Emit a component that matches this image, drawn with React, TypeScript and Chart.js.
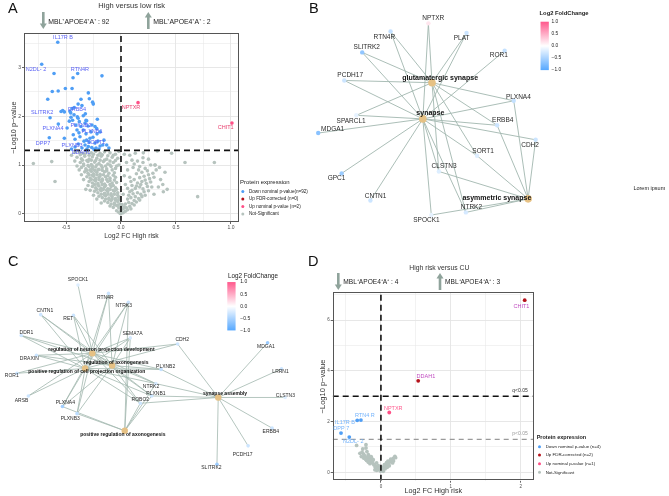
import React, { useEffect, useRef } from 'react';
import { Chart, registerables } from 'chart.js';

Chart.register(...registerables);

type Pt = [number, number];

const FONT = '"Liberation Sans", Arial, Helvetica, sans-serif';
const BLUE = '#4f9ef5';
const DARKRED = '#b5121b';
const PINK = '#ff4f86';
const GREY = '#b6c3be';
const EDGE = '#a2b7af';
const CAT = '#e6c184';
const ARROW = '#8fa39b';

// ================= Panel A : High versus low risk =================
const aDown: Pt[] = [
  [-0.575, 3.52], [-0.721, 3.07], [-0.609, 2.88], [-0.436, 2.79], [-0.394, 2.88], [-0.173, 2.83],
  [-0.625, 2.51], [-0.571, 2.52], [-0.506, 2.57], [-0.445, 2.57], [-0.297, 2.48], [-0.666, 2.35], [-0.364, 2.35],
  [-0.252, 2.25], [-0.258, 2.29], [-0.39, 2.25], [-0.355, 2.22], [-0.288, 2.36],
  [-0.53, 2.12], [-0.545, 2.1], [-0.515, 2.09], [-0.464, 2.1], [-0.425, 2.18], [-0.445, 2.16], [-0.457, 2.07], [-0.427, 2.03], [-0.324, 2.05],
  [-0.645, 1.97], [-0.455, 1.98], [-0.343, 2.01], [-0.397, 1.99], [-0.47, 1.9], [-0.44, 1.92], [-0.312, 1.91], [-0.215, 1.94], [-0.379, 1.89], [-0.318, 1.92], [-0.39, 1.96],
  [-0.57, 1.84], [-0.41, 1.82], [-0.364, 1.79], [-0.343, 1.72], [-0.273, 1.68], [-0.221, 1.75], [-0.19, 1.68], [-0.236, 1.79], [-0.327, 1.86], [-0.3, 1.8], [-0.264, 1.82], [-0.49, 1.76], [-0.4, 1.72], [-0.382, 1.66],
  [-0.652, 1.56], [-0.515, 1.55], [-0.434, 1.62], [-0.373, 1.58], [-0.312, 1.51], [-0.282, 1.55], [-0.236, 1.45], [-0.166, 1.41], [-0.255, 1.57], [-0.336, 1.49], [-0.29, 1.47], [-0.418, 1.53], [-0.218, 1.64], [-0.318, 1.64], [-0.155, 1.51], [-0.21, 1.49],
  [-0.388, 1.43], [-0.327, 1.41], [-0.297, 1.38], [-0.266, 1.36], [-0.13, 1.41], [-0.418, 1.37], [-0.355, 1.35], [-0.227, 1.35], [-0.19, 1.39], [-0.11, 1.35], [-0.45, 1.33], [-0.245, 1.32], [-0.31, 1.33], [-0.2, 1.33],
];
const aUpFdr: Pt[] = [];
const aUpNom: Pt[] = [[0.155, 2.28], [1.009, 1.86]];
const aNotSig: Pt[] = [
  [-0.42, 1.26], [-0.38, 1.27], [-0.35, 1.24], [-0.31, 1.27], [-0.27, 1.25], [-0.23, 1.28], [-0.19, 1.24], [-0.15, 1.27], [-0.1, 1.25], [-0.05, 1.22], [-0.02, 1.28],
  [-0.4, 1.16], [-0.36, 1.13], [-0.33, 1.18], [-0.29, 1.12], [-0.26, 1.17], [-0.22, 1.14], [-0.18, 1.18], [-0.13, 1.12], [-0.08, 1.16], [-0.03, 1.14],
  [-0.37, 1.05], [-0.34, 1.02], [-0.3, 1.07], [-0.27, 1.01], [-0.24, 1.06], [-0.2, 1.03], [-0.16, 1.07], [-0.12, 1.02], [-0.07, 1.05], [-0.02, 1.0],
  [-0.36, 0.95], [-0.32, 0.92], [-0.29, 0.97], [-0.26, 0.93], [-0.23, 0.96], [-0.2, 0.91], [-0.17, 0.95], [-0.13, 0.92], [-0.09, 0.97], [-0.05, 0.93],
  [-0.33, 0.86], [-0.3, 0.83], [-0.27, 0.87], [-0.25, 0.82], [-0.22, 0.85], [-0.19, 0.81], [-0.15, 0.86], [-0.11, 0.83], [-0.06, 0.84],
  [-0.31, 0.76], [-0.28, 0.73], [-0.25, 0.77], [-0.23, 0.72], [-0.2, 0.75], [-0.17, 0.71], [-0.14, 0.76], [-0.1, 0.73], [-0.05, 0.75],
  [-0.29, 0.66], [-0.26, 0.63], [-0.23, 0.67], [-0.21, 0.62], [-0.18, 0.65], [-0.15, 0.61], [-0.12, 0.66], [-0.08, 0.63], [-0.04, 0.64],
  [-0.26, 0.56], [-0.23, 0.53], [-0.2, 0.57], [-0.18, 0.52], [-0.15, 0.55], [-0.12, 0.51], [-0.09, 0.56], [-0.05, 0.53],
  [-0.24, 0.46], [-0.21, 0.43], [-0.18, 0.47], [-0.15, 0.42], [-0.12, 0.45], [-0.09, 0.41], [-0.06, 0.46], [-0.03, 0.43],
  [-0.2, 0.36], [-0.17, 0.33], [-0.14, 0.37], [-0.11, 0.32], [-0.08, 0.35], [-0.05, 0.31], [-0.02, 0.34],
  [-0.15, 0.26], [-0.12, 0.23], [-0.09, 0.27], [-0.06, 0.22], [-0.03, 0.25], [-0.01, 0.2],
  [-0.1, 0.16], [-0.07, 0.13], [-0.04, 0.17], [-0.02, 0.12], [0.0, 0.15],
  [-0.04, 0.06], [-0.02, 0.03], [0.0, 0.07], [0.02, 0.02], [0.04, 0.05], [0.0, 0.0], [-0.01, 0.01],
  [0.02, 0.1], [0.05, 0.12], [0.08, 0.15], [0.04, 0.2], [0.07, 0.23], [0.1, 0.21], [0.12, 0.27], [0.06, 0.3], [0.09, 0.33], [0.13, 0.35], [0.16, 0.31],
  [0.11, 0.41], [0.15, 0.43], [0.18, 0.4], [0.21, 0.45], [0.08, 0.45], [0.13, 0.52], [0.17, 0.55], [0.2, 0.51], [0.24, 0.56], [0.1, 0.58],
  [0.15, 0.63], [0.19, 0.66], [0.23, 0.62], [0.27, 0.65], [0.12, 0.7], [0.17, 0.74], [0.21, 0.77], [0.26, 0.72], [0.3, 0.75], [0.14, 0.82],
  [0.19, 0.85], [0.24, 0.88], [0.29, 0.83], [0.06, 0.9], [0.11, 0.95], [0.17, 0.97], [0.22, 0.93], [0.27, 1.0], [0.31, 1.0], [0.05, 1.05],
  [0.1, 1.1], [0.15, 1.08], [0.2, 1.15], [0.08, 1.2], [0.13, 1.24], [0.03, 0.78], [0.04, 0.6], [0.02, 0.4], [0.03, 1.22],
  [-0.45, 1.2], [-0.42, 1.08], [-0.4, 0.98], [-0.38, 0.9], [-0.36, 0.8], [-0.34, 0.7], [-0.3, 0.58], [-0.28, 0.48], [-0.25, 0.38], [-0.22, 0.3], [-0.18, 0.22], [-0.32, 0.5],
  [-0.797, 1.03], [-0.63, 1.07], [-0.6, 0.66], [0.582, 1.05], [0.849, 1.05], [0.697, 0.35], [0.46, 1.24], [0.33, 1.29], [0.203, 1.25],
  [0.309, 1.0], [0.385, 0.45], [0.42, 0.5], [0.36, 0.7], [0.4, 0.85], [0.34, 0.55], [0.38, 0.6], [0.3, 0.4],
  [-0.37, 1.21], [-0.33, 1.22], [-0.29, 1.2], [-0.25, 1.22], [-0.21, 1.2], [-0.17, 1.21], [-0.12, 1.19], [-0.07, 1.2],
  [-0.35, 1.1], [-0.31, 1.09], [-0.27, 1.1], [-0.23, 1.09], [-0.19, 1.1], [-0.15, 1.1], [-0.1, 1.08], [-0.05, 1.09],
  [-0.34, 0.99], [-0.3, 0.99], [-0.26, 0.98], [-0.22, 1.0], [-0.18, 0.99], [-0.14, 0.98], [-0.1, 1.0], [-0.04, 0.98],
  [-0.31, 0.89], [-0.28, 0.9], [-0.24, 0.89], [-0.21, 0.9], [-0.17, 0.89], [-0.13, 0.88], [-0.08, 0.9],
  [-0.29, 0.8], [-0.26, 0.79], [-0.22, 0.8], [-0.19, 0.78], [-0.16, 0.8], [-0.12, 0.78], [-0.07, 0.79],
  [-0.27, 0.7], [-0.24, 0.69], [-0.2, 0.7], [-0.17, 0.68], [-0.13, 0.7], [-0.1, 0.68], [-0.06, 0.69],
  [-0.24, 0.6], [-0.21, 0.59], [-0.17, 0.6], [-0.14, 0.58], [-0.1, 0.6], [-0.07, 0.58],
  [-0.22, 0.5], [-0.19, 0.49], [-0.16, 0.5], [-0.13, 0.48], [-0.1, 0.5], [-0.07, 0.48], [-0.04, 0.5],
  [-0.18, 0.4], [-0.15, 0.39], [-0.12, 0.4], [-0.09, 0.38], [-0.06, 0.4], [-0.03, 0.38],
  [-0.14, 0.3], [-0.11, 0.29], [-0.08, 0.3], [-0.05, 0.28], [-0.02, 0.29],
  [-0.09, 0.2], [-0.06, 0.19], [-0.03, 0.18], [0.01, 0.19],
  [0.03, 0.14], [0.06, 0.08], [0.09, 0.1], [0.12, 0.18], [0.14, 0.24], [0.17, 0.28], [0.19, 0.35], [0.22, 0.38], [0.25, 0.47], [0.28, 0.55],
  [0.07, 0.38], [0.1, 0.48], [0.06, 0.52], [0.09, 0.66], [0.14, 0.57], [0.18, 0.6], [0.22, 0.69], [0.25, 0.8], [0.32, 0.9], [0.35, 0.95],
  [0.16, 0.9], [0.08, 0.75], [0.2, 1.05], [0.25, 1.12], [0.12, 1.02],
];
const aLabelNames = ['IL17R B', 'N2DL- 2', 'RTN4R', 'SLITRK2', 'ERBB4', 'PLXNB2', 'PLXNA4', 'PLXNB1', 'SORT1', 'DPP7', 'PLXNB3', 'DDAH1', 'NPTXR', 'CHIT1'];
const aLabelX = [-0.527, -0.773, -0.373, -0.718, -0.4, -0.364, -0.618, -0.264, -0.227, -0.709, -0.445, -0.364, 0.091, 0.952];
const aLabelY = [3.61, 2.97, 2.97, 2.07, 2.13, 1.82, 1.76, 1.68, 1.47, 1.45, 1.41, 1.25, 2.19, 1.77];
const aLabelKind = ['down', 'down', 'down', 'down', 'down', 'down', 'down', 'down', 'down', 'down', 'down', 'down', 'nom', 'nom'];
const aLegend = ['Down nominal p-value(n=92)', 'Up FDR-corrected (n=0)', 'Up nominal p-value (n=2)', 'Not-Significant'];

// ================= Panel D : High risk versus CU =================
const dDown: Pt[] = [[-0.339, 2.05], [-0.286, 2.06], [-0.571, 1.55], [-0.453, 1.39]];
const dUpFdr: Pt[] = [[2.057, 6.79], [0.533, 3.61]];
const dUpNom: Pt[] = [[0.119, 2.36]];
const dNotSig: Pt[] = [
  [-0.214, 0.96], [-0.348, 1.06], [-0.214, 1.09], [-0.252, 0.73], [-0.229, 0.63], [-0.195, 0.56], [-0.167, 0.52], [-0.205, 0.47],
  [-0.148, 0.43], [-0.119, 0.37], [-0.157, 0.34], [-0.095, 0.3], [-0.071, 0.24], [-0.052, 0.17], [-0.029, 0.1], [-0.005, 0.05],
  [0.014, 0.08], [0.033, 0.14], [0.057, 0.21], [0.081, 0.28], [0.105, 0.34], [0.129, 0.41], [0.152, 0.47], [0.176, 0.55],
  [0.2, 0.63], [0.167, 0.37], [0.119, 0.26], [-0.11, 0.5], [-0.18, 0.7], [-0.133, 0.56], [-0.062, 0.37], [-0.038, 0.26],
  [-0.014, 0.17], [-0.086, 0.1], [-0.243, 0.56], [-0.06, 0.08], [0.033, 0.04], [-0.28, 0.62], [-0.17, 0.62], [0.09, 0.2],
  [-0.27, 0.8], [-0.24, 0.68], [-0.2, 0.6], [-0.16, 0.48], [-0.22, 0.52], [-0.14, 0.62], [-0.12, 0.42], [-0.1, 0.3],
  [-0.08, 0.2], [-0.04, 0.14], [0.0, 0.1], [0.02, 0.2], [0.05, 0.3], [0.08, 0.38], [0.1, 0.44], [0.14, 0.52],
  [0.18, 0.45], [0.21, 0.58], [0.06, 0.14], [0.11, 0.33], [-0.18, 0.4], [-0.2, 0.82], [-0.26, 0.92], [-0.3, 0.75],
];
const dLabelNames = ['CHIT1', 'DDAH1', 'NPTXR', 'RTN4 R', 'IL17R B', 'DPP 7', 'N2DL- 2'];
const dLabelX = [2.01, 0.643, 0.176, -0.229, -0.514, -0.567, -0.396];
const dLabelY = [6.56, 3.78, 2.52, 2.24, 1.98, 1.71, 1.22];
const dLabelKind = ['fdr', 'fdr', 'nom', 'down', 'down', 'down', 'down'];
const dLegend = ['Down nominal p-value (n=4)', 'Up FDR-corrected (n=2)', 'Up nominal p-value (n=1)', 'Not-Significant'];

// ================= Panel B : GO cellular component network =================
const bNodes = ['NPTXR', 'RTN4R', 'PLAT', 'SLITRK2', 'ROR1', 'PCDH17', 'glutamatergic synapse', 'PLXNA4', 'SPARCL1', 'synapse',
  'MDGA1', 'ERBB4', 'CDH2', 'SORT1', 'CLSTN3', 'GPC1', 'CNTN1', 'asymmetric synapse', 'NTRK2', 'SPOCK1'];
const bNodeX = [427, 388.3, 466, 359.3, 505, 341, 430.7, 514.3, 353.3, 421.3, 314.3, 497.3, 536.7, 476.7, 437.7, 338.3, 367.7, 529, 465.3, 430];
const bNodeY = [20, 28.3, 30, 50, 48.3, 79, 81.3, 100, 115, 118.7, 133.3, 125.3, 140.3, 156.7, 173, 175, 203, 201.3, 215.3, 218];
const bLabelX = [432, 382, 461, 364, 499, 347, 439, 519, 348, 429, 329, 503, 531, 483, 443, 333, 373, 497, 471, 425];
const bLabelY = [15, 34, 35, 45, 53, 74, 76, 96, 121, 113, 129.5, 120, 146, 152, 168, 180, 199, 200, 210, 223];
const bFold: (number | null)[] = [0.15, -0.35, -0.3, -0.65, -0.35, -0.3, null, -0.35, -0.15, null, -0.7, -0.3, -0.3, -0.2, -0.2, -0.6, -0.3, null, -0.25, -0.15];
const bEdges: [string, string][] = [
  ['synapse', 'NPTXR'], ['synapse', 'RTN4R'], ['synapse', 'PLAT'], ['synapse', 'SLITRK2'], ['synapse', 'ROR1'], ['synapse', 'PCDH17'],
  ['synapse', 'PLXNA4'], ['synapse', 'SPARCL1'], ['synapse', 'MDGA1'], ['synapse', 'ERBB4'], ['synapse', 'CDH2'], ['synapse', 'SORT1'],
  ['synapse', 'CLSTN3'], ['synapse', 'GPC1'], ['synapse', 'CNTN1'], ['synapse', 'NTRK2'], ['synapse', 'SPOCK1'],
  ['glutamatergic synapse', 'NPTXR'], ['glutamatergic synapse', 'RTN4R'], ['glutamatergic synapse', 'PLAT'], ['glutamatergic synapse', 'SLITRK2'],
  ['glutamatergic synapse', 'PCDH17'], ['glutamatergic synapse', 'PLXNA4'], ['glutamatergic synapse', 'SPARCL1'], ['glutamatergic synapse', 'ERBB4'],
  ['glutamatergic synapse', 'CLSTN3'], ['glutamatergic synapse', 'NTRK2'], ['glutamatergic synapse', 'SORT1'],
  ['asymmetric synapse', 'PLXNA4'], ['asymmetric synapse', 'ERBB4'], ['asymmetric synapse', 'CDH2'], ['asymmetric synapse', 'SORT1'],
  ['asymmetric synapse', 'CLSTN3'], ['asymmetric synapse', 'NTRK2'], ['asymmetric synapse', 'SPOCK1'],
];

// ================= Panel C : GO biological process network =================
const RNPD = 'regulation of neuron projection development';
const RAX = 'regulation of axonogenesis';
const PRCPO = 'positive regulation of cell projection organization';
const PRAX = 'positive regulation of axonogenesis';
const SASM = 'synapse assembly';
const cNodes = ['SPOCK1', 'RTN4R', 'NTRK3', 'CNTN1', 'RET', 'DDR1', 'SEMA7A', 'CDH2', 'MDGA1', 'DRAXIN', RNPD, RAX, 'PLXNB2', 'LRRN1',
  'ROR1', PRCPO, 'NTRK2', 'PLXNB1', SASM, 'CLSTN3', 'ARSB', 'ROBO2', 'PLXNA4', 'PLXNB3', 'ERBB4', PRAX, 'PCDH17', 'SLITRK2'];
const cNodeX = [76, 107.3, 127.7, 37.7, 71.3, 17.7, 129.7, 178.3, 270.7, 33.3, 90.7, 111, 161.3, 285, 13.3, 83.3, 156, 151.7, 220, 288.7, 25, 140, 60, 75, 275.3, 124, 250.7, 218.7];
const cNodeY = [282, 290.7, 300, 312.7, 313.3, 334.3, 336.7, 343, 341.7, 354.7, 352.7, 365.3, 369.3, 368.7, 373.3, 368.3, 384, 396.7, 398.3, 398.3, 396.7, 404.3, 407.7, 415, 430, 432.7, 448.3, 467.3];
const cLabelX = [76, 104, 123, 42, 66, 23, 132, 183, 269, 26, 100, 115, 166, 284, 8, 85, 151, 156, 227, 289, 18, 140, 63, 68, 274, 122, 245, 213];
const cLabelY = [277, 295, 303, 309, 317, 331, 332, 339, 346, 358, 349, 362, 366, 372, 376, 372, 387, 394, 394, 396, 402, 401, 404, 420, 434, 437, 457, 471];
const cFold: (number | null)[] = [-0.2, -0.3, -0.3, -0.3, -0.3, -0.3, -0.25, -0.3, -0.6, -0.3, null, null, -0.35, -0.3,
  -0.3, null, -0.25, -0.3, null, -0.2, -0.3, -0.3, -0.55, -0.4, -0.3, null, -0.3, -0.6];
const cEdges: [string, string][] = [
  [RNPD, 'SPOCK1'], [RNPD, 'RTN4R'], [RNPD, 'NTRK3'], [RNPD, 'CNTN1'], [RNPD, 'RET'], [RNPD, 'DDR1'], [RNPD, 'DRAXIN'], [RNPD, 'SEMA7A'],
  [RNPD, 'CDH2'], [RNPD, 'ROR1'], [RNPD, 'ARSB'], [RNPD, 'PLXNA4'], [RNPD, 'PLXNB3'], [RNPD, 'NTRK2'], [RNPD, 'PLXNB1'], [RNPD, 'ROBO2'], [RNPD, 'PLXNB2'],
  [PRCPO, 'RTN4R'], [PRCPO, 'NTRK3'], [PRCPO, 'CNTN1'], [PRCPO, 'RET'], [PRCPO, 'DDR1'], [PRCPO, 'DRAXIN'], [PRCPO, 'ROR1'], [PRCPO, 'ARSB'],
  [PRCPO, 'PLXNA4'], [PRCPO, 'PLXNB3'], [PRCPO, 'SEMA7A'], [PRCPO, 'CDH2'], [PRCPO, 'NTRK2'], [PRCPO, 'ROBO2'], [PRCPO, 'PLXNB1'], [PRCPO, 'PLXNB2'],
  [RAX, 'RTN4R'], [RAX, 'NTRK3'], [RAX, 'RET'], [RAX, 'DDR1'], [RAX, 'DRAXIN'], [RAX, 'SEMA7A'], [RAX, 'PLXNA4'], [RAX, 'PLXNB3'],
  [RAX, 'PLXNB1'], [RAX, 'PLXNB2'], [RAX, 'ROBO2'], [RAX, 'NTRK2'], [RAX, 'CNTN1'],
  [PRAX, 'PLXNA4'], [PRAX, 'PLXNB3'], [PRAX, 'SEMA7A'], [PRAX, 'ROBO2'], [PRAX, 'NTRK2'], [PRAX, 'PLXNB1'], [PRAX, 'NTRK3'],
  [SASM, 'MDGA1'], [SASM, 'LRRN1'], [SASM, 'CLSTN3'], [SASM, 'ERBB4'], [SASM, 'PCDH17'], [SASM, 'SLITRK2'], [SASM, 'CDH2'],
  [SASM, 'PLXNB2'], [SASM, 'NTRK2'], [SASM, 'ROBO2'], [SASM, 'PLXNB1'],
];

const barLabels = ['1.0', '0.5', '0.0', '\u22120.5', '\u22121.0'];
const arrowTextDown = ['MBL\u207AAPOE4\u207AA\u207A : 92', 'MBL\u207AAPOE4\u207AA\u207A : 4'];
const arrowTextUp = ['MBL\u207AAPOE4\u207AA\u207A : 2', 'MBL\u207AAPOE4\u207AA\u207A : 3'];

// ================= helpers =================
function fcColor(v: number): string {
  const t = Math.max(-1, Math.min(1, v));
  const end = t < 0 ? [86, 168, 255] : [255, 88, 140];
  const f = Math.abs(t);
  const c = end.map((e) => Math.round(255 + (e - 255) * f));
  return `rgb(${c[0]},${c[1]},${c[2]})`;
}

function drawArrow(ctx: CanvasRenderingContext2D, x: number, top: number, bot: number, up: boolean) {
  const shaft = 2.6, headW = 7, headL = 5.5;
  ctx.fillStyle = ARROW;
  ctx.beginPath();
  if (up) {
    ctx.moveTo(x, top);
    ctx.lineTo(x + headW / 2, top + headL);
    ctx.lineTo(x - headW / 2, top + headL);
    ctx.closePath();
    ctx.fill();
    ctx.fillRect(x - shaft / 2, top + headL - 0.5, shaft, bot - top - headL + 0.5);
  } else {
    ctx.moveTo(x, bot);
    ctx.lineTo(x + headW / 2, bot - headL);
    ctx.lineTo(x - headW / 2, bot - headL);
    ctx.closePath();
    ctx.fill();
    ctx.fillRect(x - shaft / 2, top, shaft, bot - top - headL + 0.5);
  }
}

const kindColorA: Record<string, string> = { down: '#5b63f5', nom: '#e8406f', fdr: '#b5121b' };
const kindColorD: Record<string, string> = { down: '#74b3fb', nom: '#ff5c8f', fdr: '#c04cc0' };

interface VSpec {
  x: [number, number]; y: [number, number]; xStep: number; yStep: number; xEvery: number; yEvery: number;
  fmtX: (v: number) => string; fmtY: (v: number) => string;
  pad: { left: number; top: number; right: number; bottom: number }; yAxisW: number; xAxisH: number;
  yTitleSize: number; yTitlePad: number; xTitleSize: number; xTitlePad: number; tickSize: number; tickPad: number;
  down: Pt[]; upFdr: Pt[]; upNom: Pt[]; notSig: Pt[]; r: number;
  refLines: { axis: 'x' | 'y'; v: number; color: string; width: number; dash: number[] }[];
  names: string[]; lx: number[]; ly: number[]; lcolors: string[]; lsize: number;
  notes: { text: string; x: number; y: number; color: string; size: number }[];
  title: string; titleX: number; titleY: number; titleSize: number;
  downX: number; upX: number; arrowTop: number; arrowBot: number; textY: number; textSize: number; downText: string; upText: string;
  legX: number; legY: number; legRows: number[]; legNames: string[]; legTitleSize: number; legTitleBold: boolean; legSize: number;
}

function buildVolcano(canvas: HTMLCanvasElement, s: VSpec) {
  const near = (v: number, every: number) => Math.abs(v / every - Math.round(v / every)) < 1e-6;
  const pts = (a: Pt[]) => a.map(([x, y]) => ({ x, y }));
  const ref = s.refLines.map((l) => ({
    data: l.axis === 'x' ? [{ x: l.v, y: s.y[0] }, { x: l.v, y: s.y[1] }] : [{ x: s.x[0], y: l.v }, { x: s.x[1], y: l.v }],
    showLine: true, borderColor: l.color, borderWidth: l.width, borderDash: l.dash, pointRadius: 0, order: 0,
  }));
  const pointDs = (data: Pt[], color: string, order: number) => ({
    data: pts(data), backgroundColor: color, borderWidth: 0, pointBorderWidth: 0, pointRadius: s.r, pointHoverRadius: s.r, order,
  });
  const plugin = {
    id: 'volcanoExtras',
    afterDatasetsDraw(chart: any) {
      const { ctx, chartArea: ca, scales } = chart;
      const xs = scales.x, ys = scales.y;
      ctx.save();
      ctx.setLineDash([]);
      ctx.strokeStyle = '#555';
      ctx.lineWidth = 1;
      ctx.strokeRect(Math.round(ca.left) + 0.5, Math.round(ca.top) + 0.5, Math.round(ca.width) - 1, Math.round(ca.height) - 1);
      ctx.textAlign = 'center';
      ctx.textBaseline = 'middle';
      ctx.font = `${s.lsize}px ${FONT}`;
      s.names.forEach((n, i) => {
        ctx.fillStyle = s.lcolors[i];
        ctx.fillText(n, xs.getPixelForValue(s.lx[i]), ys.getPixelForValue(s.ly[i]));
      });
      s.notes.forEach((n) => {
        ctx.font = `${n.size}px ${FONT}`;
        ctx.fillStyle = n.color;
        ctx.fillText(n.text, xs.getPixelForValue(n.x), ys.getPixelForValue(n.y));
      });
      // header
      ctx.fillStyle = '#333';
      ctx.font = `${s.titleSize}px ${FONT}`;
      ctx.fillText(s.title, s.titleX, s.titleY);
      drawArrow(ctx, s.downX, s.arrowTop, s.arrowBot, false);
      drawArrow(ctx, s.upX, s.arrowTop, s.arrowBot, true);
      ctx.fillStyle = '#222';
      ctx.textAlign = 'left';
      ctx.font = `${s.textSize}px ${FONT}`;
      ctx.fillText(s.downText, s.downX + 5, s.textY);
      ctx.fillText(s.upText, s.upX + 5, s.textY);
      // legend
      ctx.font = `${s.legTitleBold ? 'bold ' : ''}${s.legTitleSize}px ${FONT}`;
      ctx.fillStyle = '#222';
      ctx.fillText('Protein expression', s.legX, s.legY);
      const cols = [BLUE, DARKRED, PINK, GREY];
      ctx.font = `${s.legSize}px ${FONT}`;
      s.legNames.forEach((n, i) => {
        ctx.fillStyle = cols[i];
        ctx.beginPath();
        ctx.arc(s.legX + 2.8, s.legRows[i], 1.5, 0, Math.PI * 2);
        ctx.fill();
        ctx.fillStyle = '#222';
        ctx.fillText(n, s.legX + 9, s.legRows[i]);
      });
      ctx.restore();
    },
  };
  const gridOf = (every: number) => ({
    color: '#e4e4e4',
    lineWidth: (c: any) => (c.tick && near(c.tick.value, every) ? 0.9 : 0.5),
    tickColor: (c: any) => (c.tick && near(c.tick.value, every) ? '#555' : 'rgba(0,0,0,0)'),
    tickLength: 2,
  });
  return new Chart(canvas, {
    type: 'scatter',
    data: {
      datasets: [...ref, pointDs(s.down, BLUE, 1), pointDs(s.upFdr, DARKRED, 1), pointDs(s.upNom, PINK, 1), pointDs(s.notSig, GREY, 2)] as any,
    },
    options: {
      animation: false,
      responsive: false,
      events: [],
      layout: { padding: s.pad },
      plugins: { legend: { display: false }, tooltip: { enabled: false } },
      scales: {
        x: {
          type: 'linear', min: s.x[0], max: s.x[1],
          afterFit: (sc: any) => { sc.height = s.xAxisH; },
          border: { display: false },
          grid: gridOf(s.xEvery) as any,
          ticks: {
            stepSize: s.xStep, includeBounds: false, autoSkip: false, maxRotation: 0, padding: s.tickPad, color: '#4d4d4d',
            font: { size: s.tickSize, family: FONT },
            callback: (v: any) => (near(Number(v), s.xEvery) ? s.fmtX(Number(v)) : ''),
          },
          title: { display: true, text: 'Log2 FC High risk', color: '#333', font: { size: s.xTitleSize, family: FONT }, padding: { top: 0, bottom: s.xTitlePad } },
        },
        y: {
          type: 'linear', min: s.y[0], max: s.y[1],
          afterFit: (sc: any) => { sc.width = s.yAxisW; },
          border: { display: false },
          grid: gridOf(s.yEvery) as any,
          ticks: {
            stepSize: s.yStep, includeBounds: false, autoSkip: false, padding: s.tickPad, color: '#4d4d4d',
            font: { size: s.tickSize, family: FONT },
            callback: (v: any) => (near(Number(v), s.yEvery) ? s.fmtY(Number(v)) : ''),
          },
          title: { display: true, text: '\u2212Log10 p\u2212value', color: '#333', font: { size: s.yTitleSize, family: FONT }, padding: { top: s.yTitlePad, bottom: 0 } },
        },
      },
    },
    plugins: [plugin],
  });
}

interface NSpec {
  box: [number, number, number, number];
  nodes: string[]; nx: number[]; ny: number[]; lx: number[]; ly: number[]; fc: (number | null)[];
  edges: [string, string][];
  geneR: number; catR: number; geneFont: number; catFont: number; edgeW: number;
  barX: number; barY: number; barW: number; barH: number; barTitleX: number; barTitleY: number; barTitleSize: number; barTitleBold: boolean;
  barLabelX: number; barLabelSize: number;
  notes: { text: string; x: number; y: number; size: number }[];
}

function buildNetwork(canvas: HTMLCanvasElement, s: NSpec) {
  const at = (n: string) => s.nodes.indexOf(n);
  const edgeDs = s.edges.map(([a, b]) => ({
    data: [{ x: s.nx[at(a)], y: s.ny[at(a)] }, { x: s.nx[at(b)], y: s.ny[at(b)] }],
    showLine: true, borderColor: EDGE, borderWidth: s.edgeW, pointRadius: 0, order: 2, clip: false,
  }));
  const nodeDs = {
    data: s.nodes.map((_, i) => ({ x: s.nx[i], y: s.ny[i] })),
    pointBackgroundColor: s.fc.map((v) => (v === null ? CAT : fcColor(v))),
    backgroundColor: s.fc.map((v) => (v === null ? CAT : fcColor(v))),
    pointBorderWidth: 0,
    borderWidth: 0,
    pointRadius: s.fc.map((v) => (v === null ? s.catR : s.geneR)),
    order: 1,
    clip: false,
  };
  const plugin = {
    id: 'networkExtras',
    afterDatasetsDraw(chart: any) {
      const { ctx, scales } = chart;
      const px = (v: number) => scales.x.getPixelForValue(v);
      const py = (v: number) => scales.y.getPixelForValue(v);
      ctx.save();
      ctx.textAlign = 'center';
      ctx.textBaseline = 'middle';
      s.nodes.forEach((n, i) => {
        const cat = s.fc[i] === null;
        ctx.font = `${cat ? 'bold ' : ''}${cat ? s.catFont : s.geneFont}px ${FONT}`;
        ctx.fillStyle = cat ? '#111' : '#2a2a2a';
        ctx.fillText(n, px(s.lx[i]), py(s.ly[i]));
      });
      // colour bar legend
      const x0 = px(s.barX), y0 = py(s.barY), y1 = py(s.barY + s.barH);
      const g = ctx.createLinearGradient(0, y0, 0, y1);
      g.addColorStop(0, fcColor(1));
      g.addColorStop(0.5, '#ffffff');
      g.addColorStop(1, fcColor(-1));
      ctx.fillStyle = g;
      ctx.fillRect(x0, y0, s.barW, y1 - y0);
      ctx.textAlign = 'left';
      ctx.fillStyle = '#222';
      ctx.font = `${s.barTitleBold ? 'bold ' : ''}${s.barTitleSize}px ${FONT}`;
      ctx.fillText('Log2 FoldChange', px(s.barTitleX), py(s.barTitleY));
      ctx.font = `${s.barLabelSize}px ${FONT}`;
      barLabels.forEach((t, i) => {
        ctx.fillText(t, px(s.barLabelX), y0 + ((y1 - y0) * i) / 4);
      });
      s.notes.forEach((n) => {
        ctx.font = `${n.size}px ${FONT}`;
        ctx.fillText(n.text, px(n.x), py(n.y));
      });
      ctx.restore();
    },
  };
  return new Chart(canvas, {
    type: 'scatter',
    data: { datasets: [...edgeDs, nodeDs] as any },
    options: {
      animation: false,
      responsive: false,
      events: [],
      layout: { padding: 0 },
      plugins: { legend: { display: false }, tooltip: { enabled: false } },
      scales: {
        x: { type: 'linear', display: false, min: s.box[0], max: s.box[0] + s.box[2] },
        y: { type: 'linear', display: false, reverse: true, min: s.box[1], max: s.box[1] + s.box[3] },
      },
    },
    plugins: [plugin],
  });
}

const specA: VSpec = {
  x: [-0.882, 1.073], y: [-0.17, 3.71], xStep: 0.25, yStep: 0.5, xEvery: 0.5, yEvery: 1,
  fmtX: (v) => v.toFixed(1), fmtY: (v) => String(Math.round(v)),
  pad: { left: 0, top: 33, right: 91, bottom: 0 }, yAxisW: 24, xAxisH: 28,
  yTitleSize: 7.3, yTitlePad: 9.6, xTitleSize: 6.8, xTitlePad: 10, tickSize: 5, tickPad: 1,
  down: aDown, upFdr: aUpFdr, upNom: aUpNom, notSig: aNotSig, r: 1.8,
  refLines: [
    { axis: 'x', v: 0, color: '#111', width: 1.6, dash: [6, 4] },
    { axis: 'y', v: 1.3, color: '#111', width: 1.6, dash: [6, 4] },
  ],
  names: aLabelNames, lx: aLabelX, ly: aLabelY, lcolors: aLabelKind.map((k) => kindColorA[k]), lsize: 5.5,
  notes: [],
  title: 'High versus low risk', titleX: 131.7, titleY: 5.5, titleSize: 7.5,
  downX: 43.3, upX: 148.3, arrowTop: 12, arrowBot: 29, textY: 22, textSize: 6.9,
  downText: arrowTextDown[0], upText: arrowTextUp[0],
  legX: 240, legY: 182, legRows: [191.5, 199, 206.5, 214], legNames: aLegend, legTitleSize: 6, legTitleBold: false, legSize: 4.6,
};

const specD: VSpec = {
  x: [-0.69, 2.19], y: [-0.33, 7.1], xStep: 0.5, yStep: 1, xEvery: 1, yEvery: 2,
  fmtX: (v) => String(Math.round(v)), fmtY: (v) => String(Math.round(v)),
  pad: { left: 0, top: 42.3, right: 135, bottom: 0 }, yAxisW: 27.7, xAxisH: 15.3,
  yTitleSize: 7.5, yTitlePad: 13.2, xTitleSize: 7.2, xTitlePad: 1, tickSize: 4.5, tickPad: 1,
  down: dDown, upFdr: dUpFdr, upNom: dUpNom, notSig: dNotSig, r: 1.9,
  refLines: [
    { axis: 'x', v: 0, color: '#111', width: 1.6, dash: [6, 4] },
    { axis: 'y', v: 3, color: '#111', width: 1.6, dash: [6, 4] },
    { axis: 'y', v: 1.3, color: '#9a9a9a', width: 1.2, dash: [5, 4] },
  ],
  names: dLabelNames, lx: dLabelX, ly: dLabelY, lcolors: dLabelKind.map((k) => kindColorD[k]), lsize: 5.5,
  notes: [
    { text: 'q<0.05', x: 1.99, y: 3.24, color: '#333', size: 5 },
    { text: 'p<0.05', x: 1.99, y: 1.52, color: '#999', size: 5 },
  ],
  title: 'High risk versus CU', titleX: 134.3, titleY: 18, titleSize: 6.8,
  downX: 33.3, upX: 135, arrowTop: 23, arrowBot: 40, textY: 32.5, textSize: 6.6,
  downText: arrowTextDown[1], upText: arrowTextUp[1],
  legX: 231.7, legY: 187.3, legRows: [196.7, 205, 213.7, 222.3], legNames: dLegend, legTitleSize: 5.5, legTitleBold: true, legSize: 4.4,
};

const specB: NSpec = {
  box: [310, 0, 359, 250],
  nodes: bNodes, nx: bNodeX, ny: bNodeY, lx: bLabelX, ly: bLabelY, fc: bFold, edges: bEdges,
  geneR: 2.2, catR: 3.8, geneFont: 6.5, catFont: 7, edgeW: 0.9,
  barX: 541.7, barY: 18.3, barW: 8.3, barH: 50, barTitleX: 540.7, barTitleY: 9.7, barTitleSize: 5.8, barTitleBold: true,
  barLabelX: 553, barLabelSize: 4.8,
  notes: [{ text: 'Lorem ipsum', x: 636.7, y: 190.3, size: 5.5 }],
};

const specC: NSpec = {
  box: [0, 250, 305, 246],
  nodes: cNodes, nx: cNodeX, ny: cNodeY, lx: cLabelX, ly: cLabelY, fc: cFold, edges: cEdges,
  geneR: 1.8, catR: 3.2, geneFont: 5, catFont: 5, edgeW: 0.8,
  barX: 229.3, barY: 279, barW: 8.3, barH: 50, barTitleX: 230, barTitleY: 272.7, barTitleSize: 6.3, barTitleBold: false,
  barLabelX: 242.7, barLabelSize: 5,
  notes: [],
};

const panelLetter = (t: string, left: number, top: number) => (
  <div style={{ position: 'absolute', left, top, fontFamily: FONT, fontSize: 14.5, lineHeight: '15px', color: '#111' }}>{t}</div>
);

export default function App() {
  const refA = useRef<HTMLCanvasElement>(null);
  const refB = useRef<HTMLCanvasElement>(null);
  const refC = useRef<HTMLCanvasElement>(null);
  const refD = useRef<HTMLCanvasElement>(null);

  useEffect(() => {
    const charts = [
      buildNetwork(refC.current!, specC),
      buildNetwork(refB.current!, specB),
      buildVolcano(refA.current!, specA),
      buildVolcano(refD.current!, specD),
    ];
    return () => charts.forEach((c) => c.destroy());
  }, []);

  const cv = (left: number, top: number, w: number, h: number) => ({ position: 'absolute' as const, left, top, width: w, height: h });

  return (
    <div style={{ position: 'absolute', left: 0, top: 0, width: 669, height: 496, background: '#fff', overflow: 'hidden' }}>
      <canvas ref={refC} width={305} height={246} style={cv(0, 250, 305, 246)} />
      <canvas ref={refB} width={359} height={250} style={cv(310, 0, 359, 250)} />
      <canvas ref={refA} width={330} height={250} style={cv(0, 0, 330, 250)} />
      <canvas ref={refD} width={364} height={246} style={cv(305, 250, 364, 246)} />
      {panelLetter('A', 8, 1)}
      {panelLetter('B', 309, 1)}
      {panelLetter('C', 8, 254)}
      {panelLetter('D', 308, 254)}
    </div>
  );
}
